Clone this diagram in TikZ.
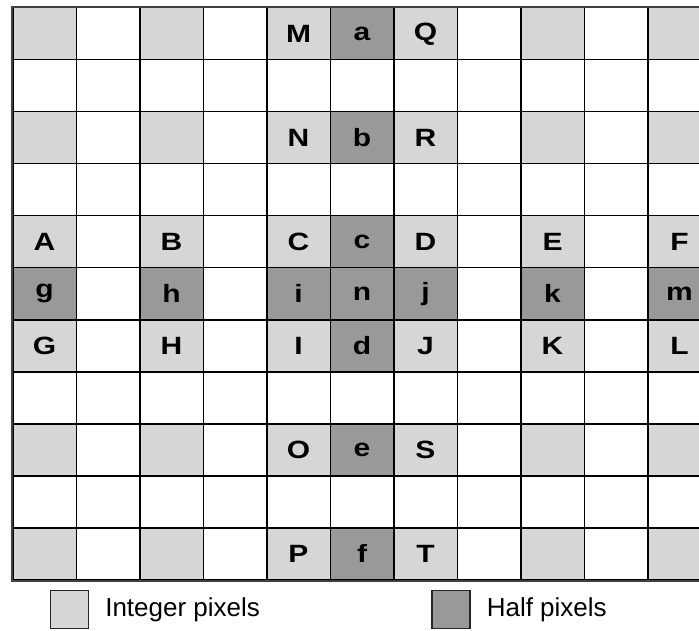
\documentclass[tikz,border=0pt]{standalone}
\usepackage{fontspec}
\setmainfont{Liberation Sans}
\newfontfamily\lblfont[FakeStretch=1.2]{Liberation Sans}
\usetikzlibrary{positioning}
\definecolor{intgray}{HTML}{D6D6D6}
\definecolor{halfgray}{HTML}{999999}
\begin{document}
\begin{tikzpicture}[x=1pt, y=-1pt,
  cell/.style={draw, line width=1.5pt, minimum width=63.5pt, minimum height=52pt, inner sep=0pt, anchor=north west},
  kind0/.style={cell, fill=white},
  kind1/.style={cell, fill=intgray},
  kind2/.style={cell, fill=halfgray},
  lbl/.style={font=\lblfont\bfseries\fontsize{25}{25}\selectfont, inner sep=0pt},
  key/.style={draw, line width=1.2pt, draw=black!85, minimum size=38pt, inner sep=0pt},
  keytext/.style={font=\fontsize{26}{26}\selectfont, inner sep=0pt, right=16pt of #1}]
  \clip (0,0) rectangle (699,631);
  \useasboundingbox (0,0) rectangle (699,631);
  % grid: integer pixels on even rows/cols, half pixels on column 5 and row 5
  \foreach \r in {0,...,10}
    \foreach \c in {0,...,10} {
      \pgfmathtruncatemacro\kind{((\c==5 && (mod(\r,2)==0 || \r==5)) || (\r==5 && mod(\c,2)==0)) ? 2 : ((mod(\r,2)==0 && mod(\c,2)==0) ? 1 : 0)}
      \node[kind\kind] (c-\r-\c) at (12+63.5*\c, 7+52*\r) {};
    }
  \draw[line width=2pt, black!75] (c-0-0.north west) rectangle (c-10-10.south east);
  % labels
  \foreach \r/\c/\t in {0/4/M, 0/5/a, 0/6/Q, 2/4/N, 2/5/b, 2/6/R,
      4/0/A, 4/2/B, 4/4/C, 4/5/c, 4/6/D, 4/8/E, 4/10/F,
      5/0/g, 5/2/h, 5/4/i, 5/5/n, 5/6/j, 5/8/k, 5/10/m,
      6/0/G, 6/2/H, 6/4/I, 6/5/d, 6/6/J, 6/8/K, 6/10/L,
      8/4/O, 8/5/e, 8/6/S, 10/4/P, 10/5/f, 10/6/T}
    \node[lbl] (lbl-\t) at (c-\r-\c.center) {\t};
  % legend
  \node[key, fill=intgray] (keyint) at (69.5,609.5) {};
  \node[keytext=keyint] (txtint) {Integer pixels};
  \node[key, fill=halfgray] (keyhalf) at (451,609.5) {};
  \node[keytext=keyhalf] (txthalf) {Half pixels};
\end{tikzpicture}
\end{document}
